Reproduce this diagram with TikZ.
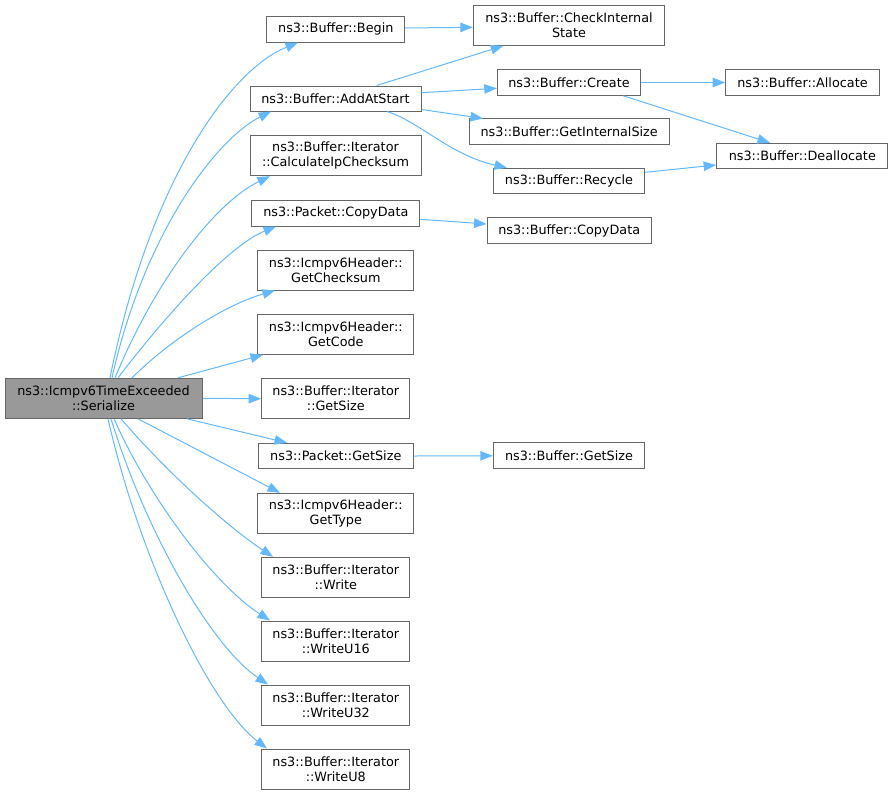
\documentclass[tikz,border=0pt]{standalone}
\usepackage{fontspec}
\setmainfont{DejaVu Sans}
\usetikzlibrary{arrows.meta}
\definecolor{edgeblue}{HTML}{63B8FF}
\definecolor{boxborder}{HTML}{666666}
\definecolor{mainfill}{HTML}{999999}
\tikzset{
  box/.style={draw=boxborder, line width=1pt, fill=white, rectangle, inner sep=0pt, align=center,
    font=\fontsize{12.8pt}{15pt}\selectfont},
  mainbox/.style={box, fill=mainfill},
  edge/.style={draw=edgeblue, line width=1pt, -{Triangle[length=12.5pt,width=9.5pt]}},
}
\begin{document}
\begin{tikzpicture}[x=1pt,y=-1pt]
\useasboundingbox (0,0) rectangle (893,795);
% nodes
\node[mainbox, minimum width=197pt, minimum height=40pt] (serial) at (103.5,398.3) {ns3::Icmpv6TimeExceeded\\::Serialize};
\node[box, minimum width=137.7pt, minimum height=25.7pt] (begin) at (335.8,29.2) {ns3::Buffer::Begin};
\node[box, minimum width=171pt, minimum height=25pt] (addat) at (335.5,98.5) {ns3::Buffer::AddAtStart};
\node[box, minimum width=171pt, minimum height=40pt] (calcip) at (335.5,155.7) {ns3::Buffer::Iterator\\::CalculateIpChecksum};
\node[box, minimum width=168.3pt, minimum height=26pt] (pcopy) at (335.8,213) {ns3::Packet::CopyData};
\node[box, minimum width=156.3pt, minimum height=40pt] (getcks) at (335.8,270) {ns3::Icmpv6Header::\\GetChecksum};
\node[box, minimum width=156.3pt, minimum height=40pt] (getcode) at (335.8,334.3) {ns3::Icmpv6Header::\\GetCode};
\node[box, minimum width=148.3pt, minimum height=40pt] (itsize) at (335.8,398.7) {ns3::Buffer::Iterator\\::GetSize};
\node[box, minimum width=155pt, minimum height=25.4pt] (pgetsize) at (335.8,456) {ns3::Packet::GetSize};
\node[box, minimum width=156.3pt, minimum height=40pt] (gettype) at (335.8,513.3) {ns3::Icmpv6Header::\\GetType};
\node[box, minimum width=148.3pt, minimum height=40pt] (write) at (335.8,577.3) {ns3::Buffer::Iterator\\::Write};
\node[box, minimum width=148.3pt, minimum height=40pt] (wu16) at (335.8,641) {ns3::Buffer::Iterator\\::WriteU16};
\node[box, minimum width=148.3pt, minimum height=40pt] (wu32) at (335.8,705) {ns3::Buffer::Iterator\\::WriteU32};
\node[box, minimum width=148.3pt, minimum height=40pt] (wu8) at (335.8,769) {ns3::Buffer::Iterator\\::WriteU8};
\node[box, minimum width=191.4pt, minimum height=40.3pt] (check) at (569,25.2) {ns3::Buffer::CheckInternal\\State};
\node[box, minimum width=143.4pt, minimum height=25.6pt] (create) at (569,82.5) {ns3::Buffer::Create};
\node[box, minimum width=153.6pt, minimum height=25.6pt] (alloc) at (802.5,82.5) {ns3::Buffer::Allocate};
\node[box, minimum width=200.3pt, minimum height=25.7pt] (gis) at (569.2,131.8) {ns3::Buffer::GetInternalSize};
\node[box, minimum width=171.3pt, minimum height=25.4pt] (dealloc) at (802.3,156) {ns3::Buffer::Deallocate};
\node[box, minimum width=151.4pt, minimum height=25.4pt] (recycle) at (569,181) {ns3::Buffer::Recycle};
\node[box, minimum width=164.3pt, minimum height=25.6pt] (bcopy) at (569.2,230.5) {ns3::Buffer::CopyData};
\node[box, minimum width=151.4pt, minimum height=25.7pt] (bgetsize) at (569,455.8) {ns3::Buffer::GetSize};
% edges from Serialize (upward)
\draw[edge] (serial.north -| 110,0) .. controls (150,180) and (230,70) .. (begin.south -| 298,0);
\draw[edge] (serial.north -| 112,0) .. controls (145,230) and (218,138) .. (addat.south -| 271,0);
\draw[edge] (serial.north -| 115,0) .. controls (160,270) and (220,200) .. (calcip.south -| 270,0);
\draw[edge] (serial.north -| 118,0) .. controls (170,310) and (230,245) .. (pcopy.south -| 276,0);
\draw[edge] (serial.north -| 132,0) .. controls (170,340) and (225,305) .. (getcks.south -| 275,0);
\draw[edge] (serial.north -| 178,0) -- (getcode.south -| 263,0);
\draw[edge] (serial.east) -- (itsize.west);
% edges from Serialize (downward)
\draw[edge] (serial.south -| 187,0) -- (pgetsize.north -| 287,0);
\draw[edge] (serial.south -| 138,0) -- (gettype.north -| 280,0);
\draw[edge] (serial.south -| 121,0) .. controls (165,470) and (225,525) .. (write.north -| 273,0);
\draw[edge] (serial.south -| 114,0) .. controls (150,500) and (215,585) .. (wu16.north -| 270,0);
\draw[edge] (serial.south -| 111,0) .. controls (145,530) and (210,645) .. (wu32.north -| 268,0);
\draw[edge] (serial.south -| 108,0) .. controls (140,560) and (210,705) .. (wu8.north -| 267,0);
% second level
\draw[edge] (begin.east |- 0,28) -- (check.west |- 0,27.3);
\draw[edge] (addat.north -| 376.7,0) -- (check.south -| 503.3,0);
\draw[edge] (addat.east |- 0,92.7) -- (create.west |- 0,88.3);
\draw[edge] (addat.east |- 0,109.5) -- (gis.north -| 483,0);
\draw[edge] (addat.south -| 387,0) .. controls (420,122) and (450,155) .. (recycle.north -| 507,0);
\draw[edge] (pcopy.east |- 0,219.3) -- (bcopy.west |- 0,224);
\draw[edge] (pgetsize.east) -- (bgetsize.west);
% third level
\draw[edge] (create.east) -- (alloc.west);
\draw[edge] (create.south -| 623.3,0) -- (dealloc.north -| 770,0);
\draw[edge] (recycle.east |- 0,172.3) -- (dealloc.west |- 0,165);
\end{tikzpicture}
\end{document}
